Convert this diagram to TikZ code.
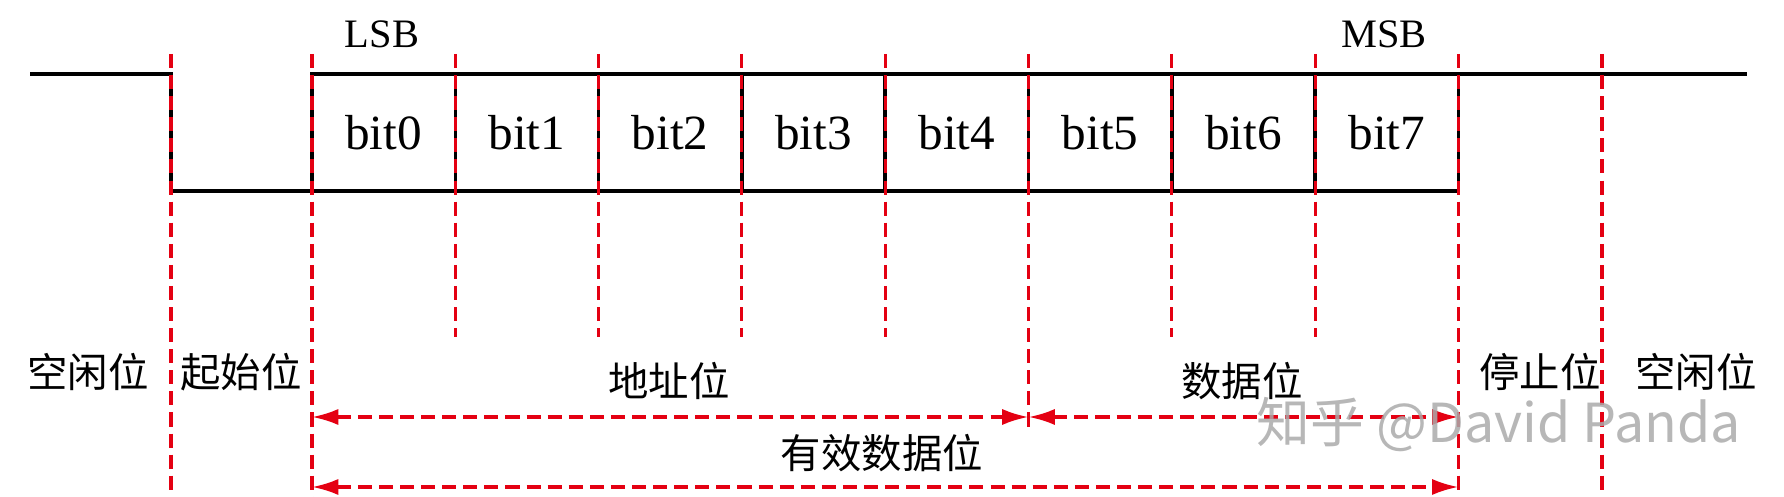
\documentclass[tikz,border=0pt]{standalone}
\usepackage{fontspec}
\setmainfont{Liberation Serif}
\newfontfamily\cjk{Noto Sans CJK SC}
\usetikzlibrary{arrows.meta}
\definecolor{guidered}{RGB}{228,0,18}
\definecolor{markgray}{RGB}{170,170,170}
\tikzset{
  wire/.style={line width=1pt},
  guide/.style={guidered, line width=0.9pt, dash pattern=on 4pt off 2pt},
  span/.style={guide, {Latex[length=7.5pt,width=4.6pt]}-{Latex[length=7.5pt,width=4.6pt]}},
  zh/.style={font=\cjk\fontsize{11.5}{13}\selectfont, inner sep=0pt},
  bitlbl/.style={font=\fontsize{14}{16}\selectfont, inner sep=0pt},
  endlbl/.style={font=\fontsize{11.5}{13}\selectfont, inner sep=0pt},
}
\begin{document}
\begin{tikzpicture}
  \useasboundingbox (0,0) rectangle (17.84,4.97);

  % signal level
  \draw[wire] (0.30,4.23) -- (1.71,4.23) -- (1.71,3.06) -- (14.584,3.06) -- (14.584,4.23) -- (17.47,4.23);
  \draw[wire] (3.12,3.06) -- (3.12,4.23) -- (14.584,4.23);
  \foreach \i in {1,...,7}
    \draw[wire] ({3.12+1.433*\i},3.06) -- ++(0,1.17);

  % bits
  \foreach \i in {0,...,7}
    \node[bitlbl] (b\i) at ({3.12+1.433*\i+0.7165},3.645) {bit\i};
  \node[endlbl] (lsb) at (3.82,4.63) {LSB};
  \node[endlbl] (msb) at (13.84,4.63) {MSB};

  % guides
  \foreach \x in {1.71,14.584,16.02}
    \draw[guide] (\x,4.43) -- (\x,0.05);
  \draw[guide] (3.12,4.43) -- (3.12,0);
  \foreach \x in {4.553,5.986,7.419,8.852,11.718,13.151}
    \draw[guide] (\x,4.43) -- (\x,1.60);
  \draw[guide] (10.285,4.43) -- (10.285,0.64);

  % fields
  \node[zh] (idle1) at (0.88,1.25) {空闲位};
  \node[zh] (start) at (2.41,1.25) {起始位};
  \node[zh] (addr) at (6.69,1.16) {地址位};
  \node[zh] (data) at (12.42,1.16) {数据位};
  \node[zh] (stop) at (15.40,1.25) {停止位};
  \node[zh] (idle2) at (16.96,1.25) {空闲位};
  \node[zh] (valid) at (8.82,0.44) {有效数据位};

  \coordinate (a0) at (3.12,0.80);
  \coordinate (a5) at (10.285,0.80);
  \coordinate (a8) at (14.584,0.80);
  \coordinate (v0) at (3.12,0.10);
  \coordinate (v8) at (14.584,0.10);
  \draw[span] (a0) -- (a5);
  \draw[span] (a5) -- (a8);
  \draw[span] (v0) -- (v8);

  \node[font=\cjk\fontsize{15.3}{17}\selectfont, text=markgray, opacity=0.85, inner sep=0pt] (mark) at (14.99,0.72) {知乎 @David Panda};
\end{tikzpicture}
\end{document}
